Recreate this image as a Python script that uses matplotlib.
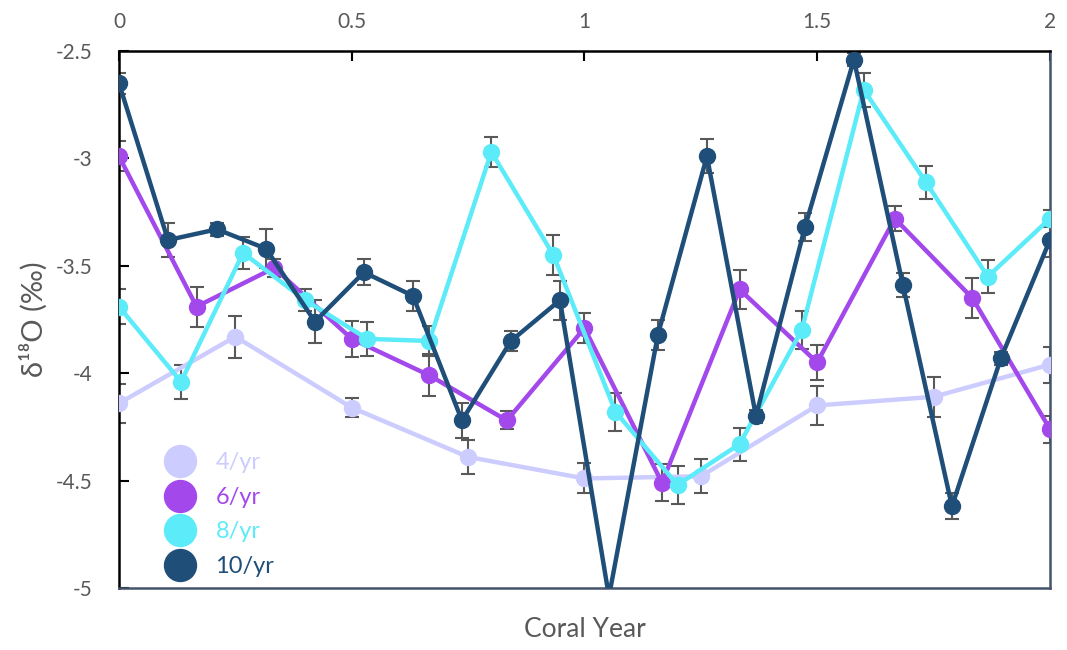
import numpy as np
import matplotlib
matplotlib.use("Agg")
from matplotlib import pyplot as plt
from matplotlib.lines import Line2D
from matplotlib.ticker import FuncFormatter

plt.rcParams["font.family"] = ["Lato", "DejaVu Sans"]
plt.rcParams["axes.unicode_minus"] = False

# sampling rates -> values over two coral years
labels = ["4/yr", "6/yr", "8/yr", "10/yr"]
colors = ["#CCCCFF", "#A349EC", "#5CEBF9", "#1F4E79"]

d18o_4 = [-4.14, -3.83, -4.16, -4.39, -4.49, -4.48, -4.15, -4.11, -3.96]
err_4 = [0.09, 0.098, 0.045, 0.077, 0.07, 0.08, 0.09, 0.093, 0.084]

d18o_6 = [-2.99, -3.69, -3.51, -3.84, -4.01, -4.22, -3.79, -4.51,
          -3.61, -3.95, -3.28, -3.65, -4.26]
err_6 = [0.07, 0.093, 0.04, 0.084, 0.098, 0.042, 0.07, 0.086,
         0.09, 0.08, 0.06, 0.093, 0.063]

d18o_8 = [-3.69, -4.04, -3.44, -3.66, -3.84, -3.85, -2.97, -3.45,
          -4.18, -4.52, -4.33, -3.80, -2.68, -3.11, -3.55, -3.28]
err_8 = [0.08, 0.08, 0.075, 0.05, 0.08, 0.07, 0.07, 0.093,
         0.088, 0.09, 0.077, 0.088, 0.08, 0.077, 0.077, 0.04]

d18o_10 = [-2.65, -3.38, -3.33, -3.42, -3.76, -3.53, -3.64, -4.22, -3.85, -3.66,
           -5.04, -3.82, -2.99, -4.20, -3.32, -2.54, -3.59, -4.62, -3.93, -3.38]
err_10 = [0.05, 0.08, 0.03, 0.09, 0.1, 0.06, 0.07, 0.08, 0.045, 0.09,
          0.02, 0.07, 0.08, 0.03, 0.065, 0.03, 0.055, 0.06, 0.03, 0.08]

series = [d18o_4, d18o_6, d18o_8, d18o_10]
errors = [err_4, err_6, err_8, err_10]

fig = plt.figure(figsize=(10.67, 6.5), dpi=100)
ax = fig.add_axes([0.1115, 0.0954, 0.8725, 0.8261])

for vals, errs, c in zip(series, errors, colors):
    x = np.linspace(0, 2, len(vals))
    ax.errorbar(x, vals, yerr=errs, fmt="none", ecolor="#595959",
                elinewidth=1.5, capsize=5, capthick=1.5, zorder=2)
    ax.plot(x, vals, "-o", color=c, lw=3.2, markersize=11.5, zorder=3)

ax.set_xlim(0, 2)
ax.set_ylim(-5, -2.5)
ax.set_yticks([-5, -4.5, -4, -3.5, -3, -2.5])
ax.set_xticks([0, 0.5, 1, 1.5, 2])
fmt = FuncFormatter(lambda v, p: f"{v:g}")
ax.yaxis.set_major_formatter(fmt)
ax.xaxis.set_major_formatter(fmt)
ax.xaxis.tick_top()
ax.tick_params(axis="both", direction="in", length=7, width=1.5,
               labelsize=15, labelcolor="#595959", color="black")
ax.tick_params(axis="x", pad=14)
ax.tick_params(axis="y", pad=19)

for s in ["top", "left"]:
    ax.spines[s].set_color("black")
    ax.spines[s].set_linewidth(1.8)
for s in ["bottom", "right"]:
    ax.spines[s].set_color("#44546A")
    ax.spines[s].set_linewidth(1.8)

ax.set_ylabel("δ¹⁸O (‰)", fontsize=21, color="#595959", labelpad=6)
ax.set_xlabel("Coral Year", fontsize=19, color="#595959", labelpad=21)

handles = [Line2D([], [], ls="none", marker="o", markersize=23, color=c)
           for c in colors]
ax.legend(handles, labels, loc="lower left", bbox_to_anchor=(0.02, -0.015),
          frameon=False, fontsize=17, labelcolor=colors, handletextpad=0.5,
          labelspacing=0.58, borderpad=0.3)

plt.savefig("out.png", dpi=100)
